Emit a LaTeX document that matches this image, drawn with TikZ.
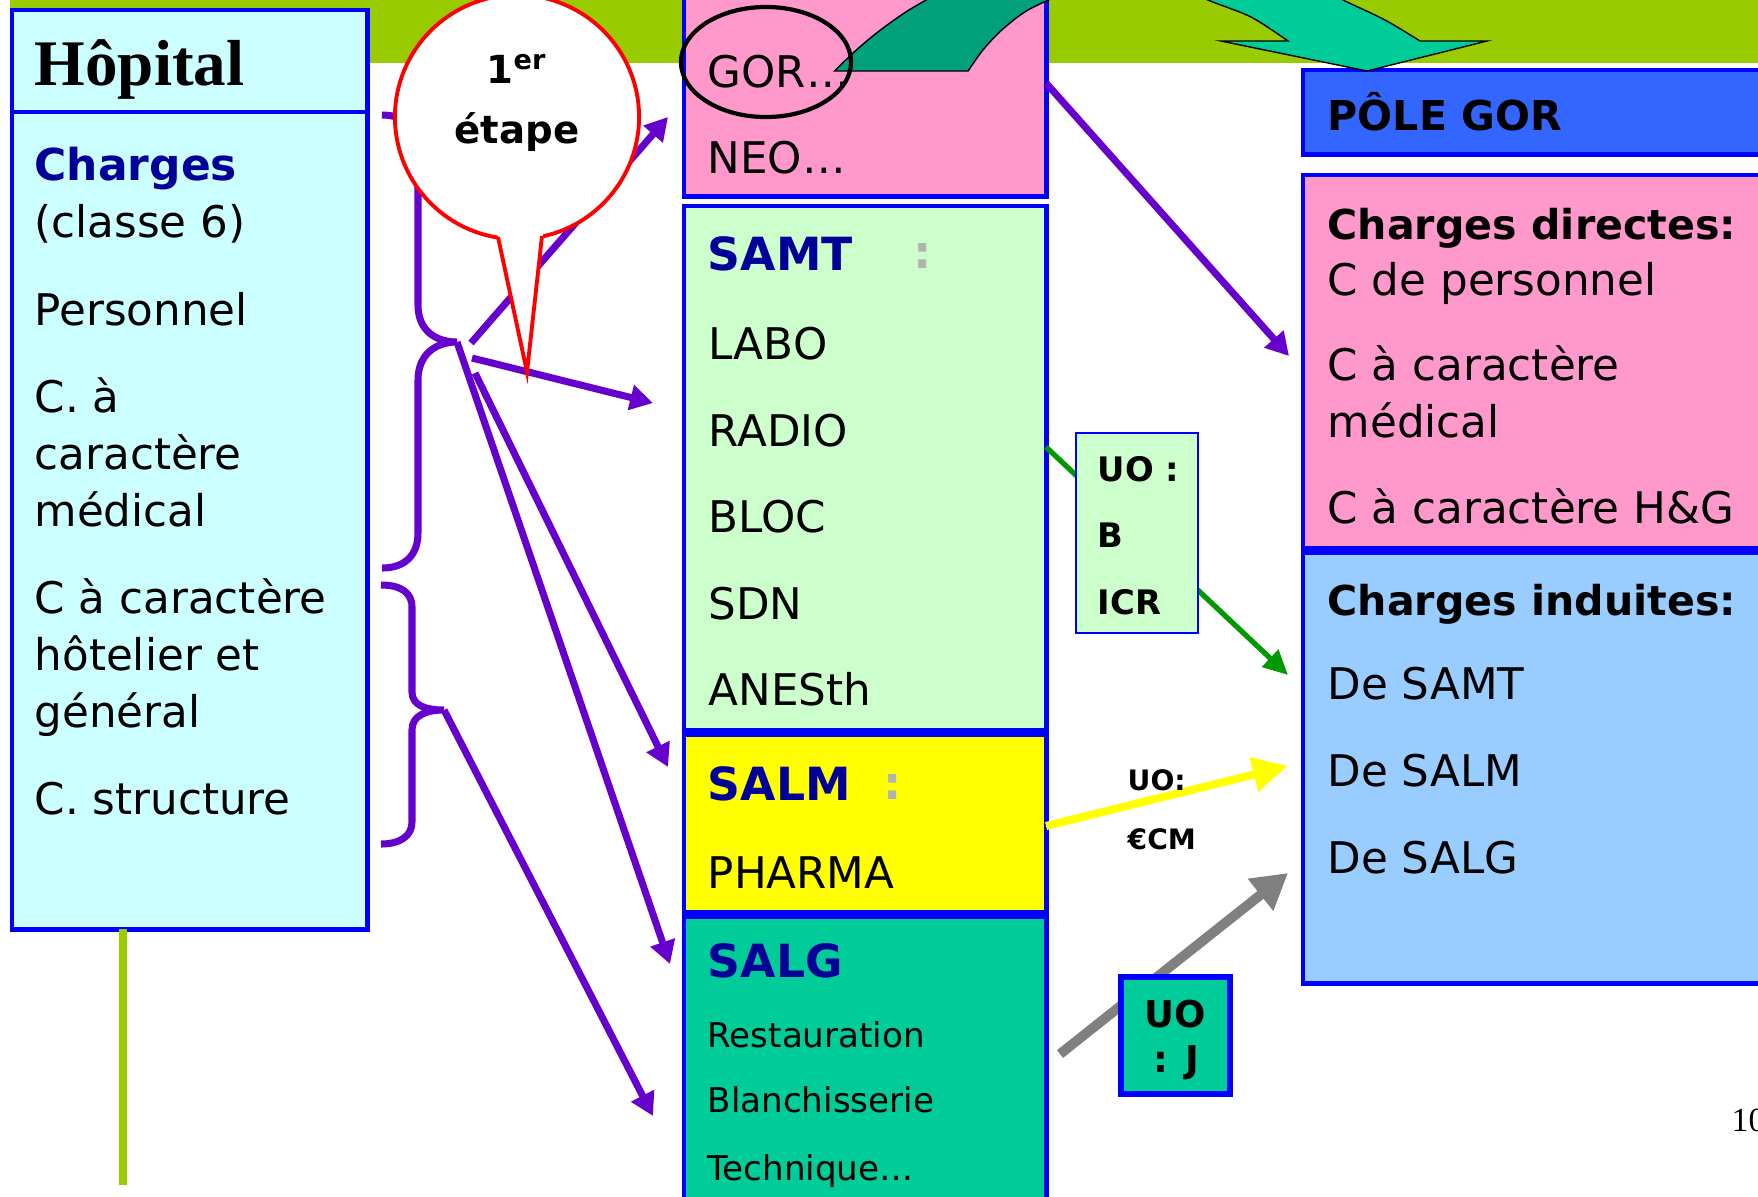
\documentclass[tikz,border=0pt]{standalone}
\usepackage{fontspec}
\setmainfont{DejaVu Sans}
\newfontfamily\hopfont{Liberation Serif}
\usetikzlibrary{arrows.meta,shapes.geometric}

\definecolor{bandgreen}{HTML}{99CC00}
\definecolor{boxblue}{HTML}{0000FF}
\definecolor{hopcyan}{HTML}{CCFFFF}
\definecolor{gorpink}{HTML}{FF99CC}
\definecolor{samtgreen}{HTML}{CCFFCC}
\definecolor{salmyellow}{HTML}{FFFF00}
\definecolor{salgteal}{HTML}{00CC99}
\definecolor{poleblue}{HTML}{3366FF}
\definecolor{induitblue}{HTML}{99CCFF}
\definecolor{flowpurple}{HTML}{6600CC}
\definecolor{titleblue}{HTML}{000099}
\definecolor{colongrey}{HTML}{B2B2B2}
\definecolor{uogreen}{HTML}{009900}
\definecolor{uogrey}{HTML}{808080}
\definecolor{arrowdark}{HTML}{00A07A}

\tikzset{
  cbox/.style={draw=boxblue,line width=1.4pt,anchor=north west,inner sep=0pt,outer sep=0pt},
  entry/.style={anchor=base west,inner sep=0pt,font=\fontsize{12.4}{14}\selectfont},
  subentry/.style={anchor=base west,inner sep=0pt,font=\fontsize{9.7}{11}\selectfont},
  unitname/.style={anchor=base west,inner sep=0pt,text=titleblue,font=\bfseries\fontsize{13}{15}\selectfont},
  unitcolon/.style={anchor=base,inner sep=0pt,text=colongrey,font=\bfseries\fontsize{13}{15}\selectfont},
  rhead/.style={anchor=base west,inner sep=0pt,font=\bfseries\fontsize{11.7}{14}\selectfont},
  uolabel/.style={anchor=base west,inner sep=0pt,font=\bfseries\fontsize{9.6}{11}\selectfont},
  flow/.style={draw=flowpurple,line width=2pt,-{Triangle[length=6.5pt,width=7pt]}},
  bracepath/.style={draw=flowpurple,line width=2pt}
}

\begin{document}
\begin{tikzpicture}[x=0.01cm,y=-0.01cm]
\useasboundingbox (0,0) rectangle (1758,1196);
\begin{scope}
\clip (0,0) rectangle (1758,1196);
% bandeau du haut
\fill[bandgreen] (10,0) rectangle (1758,63);
\coordinate (stemEnd) at (123,1185);

% colonne hopital
\node[cbox,fill=hopcyan,minimum width=3.55cm,minimum height=1.02cm] (hopHead) at (12,10) {};
\node[cbox,fill=hopcyan,minimum width=3.55cm,minimum height=8.17cm] (hopBody) at (12,112) {};
\draw[bandgreen,line width=2pt] (hopBody.south -| stemEnd) -- (stemEnd);
\node[anchor=base west,inner sep=0pt,font=\hopfont\bfseries\fontsize{18.5}{20}\selectfont] (hopTitle) at (34,85) {Hôpital};
\node[anchor=base west,inner sep=0pt,text=titleblue,font=\bfseries\fontsize{12.5}{14}\selectfont] (hopCharges) at (34,180) {Charges};
\node[entry] (hopClasse) at (34,237) {(classe 6)};
\node[entry] (hopPers) at (34,325) {Personnel};
\node[entry] (hopMed1) at (34,412) {C. à};
\node[entry] (hopMed2) at (34,469) {caractère};
\node[entry] (hopMed3) at (34,526) {médical};
\node[entry] (hopHot1) at (34,613) {C à caractère};
\node[entry] (hopHot2) at (34,670) {hôtelier et};
\node[entry] (hopHot3) at (34,727) {général};
\node[entry] (hopStruct) at (34,814) {C. structure};

% colonne des sections
\node[cbox,fill=gorpink,minimum width=3.62cm,minimum height=2.26cm] (gor) at (684,-30) {};
\node[cbox,fill=samtgreen,minimum width=3.62cm,minimum height=5.24cm] (samt) at (684,206) {};
\node[cbox,fill=salmyellow,minimum width=3.62cm,minimum height=1.77cm] (salm) at (684,735) {};
\node[cbox,fill=salgteal,minimum width=3.62cm,minimum height=3.10cm] (salg) at (684,917) {};
\node[entry] (gorText) at (707,87) {GOR…};
\node[entry] (neoText) at (707,173) {NEO…};
\node[unitname] (samtName) at (707,270) {SAMT};
\node[unitcolon] (samtColon) at (923,268) {:};
\node[entry] (samtLabo) at (708,359) {LABO};
\node[entry] (samtRadio) at (708,446) {RADIO};
\node[entry] (samtBloc) at (708,532) {BLOC};
\node[entry] (samtSdn) at (708,619) {SDN};
\node[entry] (samtAnes) at (708,705) {ANESth};
\node[unitname] (salmName) at (707,800) {SALM};
\node[unitcolon] (salmColon) at (893,799) {:};
\node[entry] (salmPharma) at (707,888) {PHARMA};
\node[unitname] (salgName) at (707,977) {SALG};
\node[subentry] (salgResto) at (707,1047) {Restauration};
\node[subentry] (salgBlanch) at (707,1112) {Blanchisserie};
\node[subentry] (salgTech) at (707,1180) {Technique…};

% colonne du pole
\node[cbox,fill=poleblue,minimum width=4.80cm,minimum height=0.84cm] (pole) at (1303,70) {};
\node[cbox,fill=gorpink,minimum width=4.80cm,minimum height=3.73cm] (direct) at (1303,175) {};
\node[cbox,fill=induitblue,minimum width=4.80cm,minimum height=4.30cm] (induit) at (1303,553) {};
\node[rhead] (poleText) at (1327,130) {PÔLE GOR};
\node[rhead] (directHead) at (1327,239) {Charges directes:};
\node[entry] (directPers) at (1327,295) {C de personnel};
\node[entry] (directMed1) at (1327,380) {C à caractère};
\node[entry] (directMed2) at (1327,437) {médical};
\node[entry] (directHot) at (1327,523) {C à caractère H\&G};
\node[rhead] (induitHead) at (1327,615) {Charges induites:};
\node[entry] (induitSamt) at (1327,699) {De SAMT};
\node[entry] (induitSalm) at (1327,786) {De SALM};
\node[entry] (induitSalg) at (1327,873) {De SALG};

% accolades et fleches violettes
\coordinate (braceTipA) at (457,342);
\coordinate (braceTipB) at (444,710);
\coordinate (toGor) at (668,117);
\coordinate (toSamt) at (653,403);
\coordinate (toSalm) at (668,767);
\coordinate (toSalg) at (670,964);
\coordinate (toSalgLow) at (653,1116);
\coordinate (gorOut) at (1046,83);
\coordinate (toDirect) at (1289,356);
\draw[bracepath] (382,115) .. controls (405,115) and (418,128) .. (418,150) -- (418,305)
  .. controls (418,330) and (435,342) .. (braceTipA)
  .. controls (435,342) and (418,355) .. (418,380) -- (418,533)
  .. controls (418,555) and (405,568) .. (382,568);
\draw[bracepath] (381,585) .. controls (400,585) and (412,592) .. (412,607) -- (412,692)
  .. controls (412,705) and (425,710) .. (braceTipB)
  .. controls (425,710) and (412,716) .. (412,730) -- (412,822)
  .. controls (412,836) and (400,844) .. (381,844);
\draw[flow] ([shift={(14,1)}]braceTipA) -- (toGor);
\draw[flow] ([shift={(15,16)}]braceTipA) -- (toSamt);
\draw[flow] ([shift={(18,31)}]braceTipA) -- (toSalm);
\draw[flow] (braceTipA) -- (toSalg);
\draw[flow] (braceTipB) -- (toSalgLow);
\draw[flow] (gorOut) -- (toDirect);

% bulle
\coordinate (ptrL) at (498,237);
\coordinate (ptrR) at (542,236);
\coordinate (ptrTip) at (527,372);
\node[circle,draw=red,fill=white,line width=1.1pt,minimum size=2.44cm,inner sep=0pt] (bubble) at (517,117) {};
\fill[white] (496,226) -- (ptrTip) -- (544,226) -- cycle;
\draw[red,line width=1.1pt] (ptrL) -- (ptrTip) -- (ptrR);
\node[anchor=base,inner sep=0pt,font=\bfseries\fontsize{11}{13}\selectfont] (bubbleOne) at (517,83) {1\textsuperscript{er}};
\node[anchor=base,inner sep=0pt,font=\bfseries\fontsize{11}{13}\selectfont] (bubbleStep) at (517,143) {étape};

% unites d'oeuvre
\coordinate (samtOut) at (1046,447);
\coordinate (toInduitA) at (1288,675);
\coordinate (salmOut) at (1046,826);
\coordinate (toInduitB) at (1288,766);
\coordinate (salgOut) at (1060,1054);
\coordinate (toInduitC) at (1288,873);
\draw[uogreen,line width=1.5pt,-{Triangle[length=7pt,width=6.5pt]}] (samtOut) -- (toInduitA);
\draw[salmyellow,line width=2.3pt,-{Triangle[length=10pt,width=9.5pt]}] (salmOut) -- (toInduitB);
\draw[uogrey,line width=2.8pt,-{Triangle[length=10pt,width=11pt]}] (salgOut) -- (toInduitC);
\node[cbox,fill=samtgreen,line width=0.6pt,minimum width=1.22cm,minimum height=2.00cm] (uoB) at (1076,433) {};
\node[uolabel] (uoBOne) at (1097,481) {UO :};
\node[uolabel] (uoBTwo) at (1097,547) {B};
\node[uolabel] (uoBThree) at (1097,614) {ICR};
\node[anchor=base west,inner sep=0pt,font=\bfseries\fontsize{8}{10}\selectfont] (uoMOne) at (1127,790) {UO:};
\node[anchor=base west,inner sep=0pt,font=\bfseries\fontsize{8}{10}\selectfont] (uoMTwo) at (1127,849) {€CM};
\node[cbox,fill=salgteal,line width=1.8pt,minimum width=1.09cm,minimum height=1.17cm] (uoJ) at (1121,977) {};
\node[anchor=base,inner sep=0pt,font=\bfseries\fontsize{10.5}{12}\selectfont] (uoJOne) at (1175,1027) {UO};
\node[anchor=base,inner sep=0pt,font=\bfseries\fontsize{10.5}{12}\selectfont] (uoJTwo) at (1176,1072) {: J};

% grande fleche courbe vers le pole
\filldraw[fill=arrowdark,draw=black,line width=0.4pt]
  plot[smooth] coordinates {(834.5,71) (856.3,50) (880.4,30) (908.9,10) (944,-10)}
  -- plot[smooth] coordinates {(1070.7,-10) (1028,10) (1001.8,30) (982.9,50) (968.1,71)} -- cycle;
\filldraw[fill=salgteal,draw=black,line width=0.4pt]
  plot[smooth] coordinates {(1192,-10) (1208,0) (1251,17) (1288,41)}
  -- (1221,41) -- (1367,71) -- (1487,41)
  -- plot[smooth] coordinates {(1420,41) (1385,20) (1343,0) (1325,-10)} -- cycle;
\node[ellipse,draw=black,line width=1.2pt,minimum width=1.70cm,minimum height=1.10cm,inner sep=0pt] (gorRing) at (766,62) {};

% numero de page
\node[anchor=base west,inner sep=0pt,font=\hopfont\fontsize{9.6}{11}\selectfont] (pageNum) at (1731,1131) {10};
\end{scope}
\end{tikzpicture}
\end{document}
